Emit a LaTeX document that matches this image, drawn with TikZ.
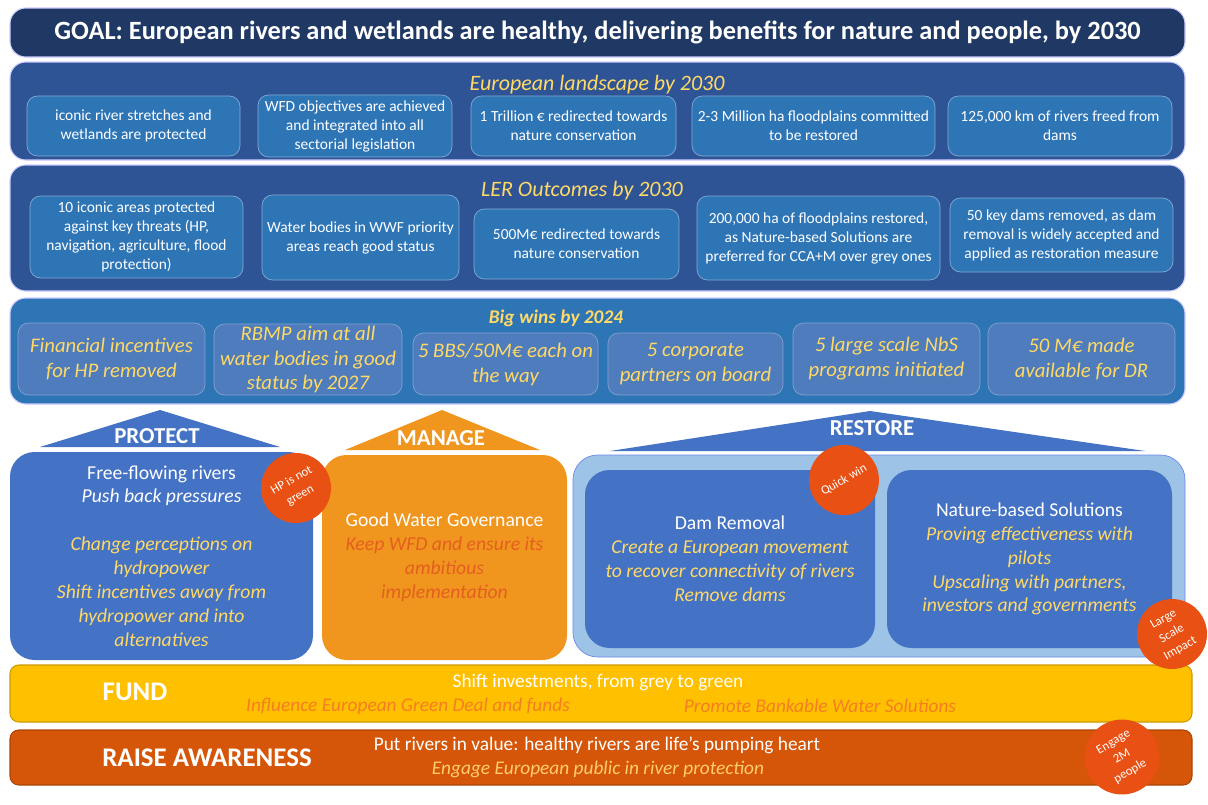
\documentclass[tikz,border=0pt]{standalone}
\usepackage{fontspec}
\setmainfont{Carlito}

\definecolor{goalc}{RGB}{31,56,100}
\definecolor{panelc}{RGB}{47,84,150}
\definecolor{boxc}{RGB}{46,117,182}
\definecolor{winc}{RGB}{46,117,182}
\definecolor{winbox}{RGB}{78,124,188}
\definecolor{lemon}{RGB}{255,217,102}
\definecolor{protc}{RGB}{68,114,196}
\definecolor{managec}{RGB}{240,150,30}
\definecolor{manaext}{RGB}{228,95,30}
\definecolor{restc}{RGB}{157,195,230}
\definecolor{badgec}{RGB}{232,80,20}
\definecolor{fundc}{RGB}{255,192,0}
\definecolor{fundtxt}{RGB}{245,125,35}
\definecolor{awarec}{RGB}{213,86,8}
\definecolor{awaretxt}{RGB}{255,205,110}

\begin{document}
\begin{tikzpicture}
  [x=0.02cm, y=-0.02cm,
   spot/.style n args = {4}{minimum width={(#3-#1)*0.02cm}, minimum height={(#4-#2)*0.02cm},
     at={({(#1+#3)/2},{(#2+#4)/2})}},
   panel/.style = {rounded corners=9pt, inner sep=0pt, draw=white!80!blue, line width=0.6pt},
   goal/.style = {panel, fill=goalc, text=white, font=\fontsize{15}{17}\selectfont\bfseries},
   title/.style = {text=lemon, font=\fontsize{12.5}{14}\selectfont\itshape},
   lbox/.style = {rounded corners=6pt, inner sep=0pt, align=center, fill=boxc,
     draw=boxc!60!white, line width=0.4pt, text=white,
     font=\fontsize{8.8}{10.8}\selectfont},
   wbox/.style = {lbox, fill=winbox, draw=winbox!70!white, text=lemon,
     font=\fontsize{11.8}{14.2}\selectfont\itshape},
   pillar/.style = {rounded corners=14pt, inner sep=0pt, align=center,
     font=\fontsize{11.2}{13.6}\selectfont, text=white},
   roof/.style = {text=white, font=\fontsize{13}{15}\selectfont\bfseries},
   badge/.style = {circle, fill=badgec, text=white, minimum size=1.4cm, inner sep=0pt,
     align=center, rotate=30, font=\fontsize{7.2}{9.6}\selectfont},
   band/.style = {rounded corners=5pt, inner sep=0pt, line width=0.6pt},
   bandlabel/.style = {text=white, font=\fontsize{15.3}{17}\selectfont\bfseries},
   bandtext/.style = {font=\fontsize{11}{13}\selectfont}
  ]
  \useasboundingbox (0,0) rectangle (1208,805);

  \node[goal, spot={10}{8}{1185}{57}] (goal) {GOAL: European rivers and wetlands are healthy, delivering benefits for nature and people, by 2030};

  % European landscape by 2030
  \node[panel, fill=panelc, spot={10}{62}{1185}{160}] (land) {};
  \node[title] (landt) at (597,85) {European landscape by 2030};
  \node[lbox, spot={27}{96}{240}{156}] (l1) {iconic river stretches and\\wetlands are protected};
  \node[lbox, spot={258}{95}{452}{157}] (l2) {WFD objectives are achieved\\and integrated into all\\sectorial legislation};
  \node[lbox, spot={471}{96}{676}{156}] (l3) {1 Trillion € redirected towards\\nature conservation};
  \node[lbox, spot={692}{96}{935}{156}] (l4) {2-3 Million ha floodplains committed\\to be restored};
  \node[lbox, spot={948}{96}{1172}{156}] (l5) {125,000 km of rivers freed from\\dams};

  % LER outcomes by 2030
  \node[panel, fill=panelc, spot={10}{165}{1185}{291}] (ler) {};
  \node[title] (lert) at (582,191) {LER Outcomes by 2030};
  \node[lbox, spot={30}{196}{243}{278}] (o1) {10 iconic  areas protected\\against key threats (HP,\\navigation, agriculture, flood\\protection)};
  \node[lbox, spot={262}{195}{459}{280}] (o2) {Water bodies in WWF priority\\areas reach good status};
  \node[lbox, spot={474}{209}{679}{279}] (o3) {500M€ redirected towards\\nature conservation};
  \node[lbox, spot={697}{196}{940}{280}] (o4) {200,000 ha of floodplains restored,\\as Nature-based Solutions are\\preferred for CCA+M over grey ones};
  \node[lbox, spot={950}{198}{1173}{272}] (o5) {50 key dams removed, as dam\\removal is widely accepted and\\applied as restoration measure};

  % Big wins by 2024
  \node[panel, fill=winc, spot={10}{298}{1185}{404}] (wins) {};
  \node[title, font=\fontsize{11}{13}\selectfont\bfseries\itshape] (winst) at (556,318) {Big wins by 2024};
  \node[wbox, spot={18}{323}{205}{395}] (w1) {Financial incentives\\for HP removed};
  \node[wbox, spot={214}{324}{402}{395}] (w2) {RBMP aim at all\\water bodies in good\\status by 2027};
  \node[wbox, spot={413}{333}{598}{395}] (w3) {5 BBS/50M€ each on\\the way};
  \node[wbox, spot={608}{333}{783}{395}] (w4) {5 corporate\\partners on board};
  \node[wbox, spot={793}{323}{980}{395}] (w5) {5 large scale NbS\\programs initiated};
  \node[wbox, spot={988}{323}{1175}{395}] (w6) {50 M€ made\\available for DR};

  % pillars
  \fill[protc] (40,447) -- (160,410) -- (280,447) -- cycle;
  \node[roof] (protr) at (157,436) {PROTECT};
  \node[pillar, fill=protc, spot={10}{452}{313}{660}] (prot) {Free-flowing rivers\\\textit{Push back pressures}\\[13.6pt]
    \color{lemon}\itshape Change perceptions on\\\color{lemon}\itshape hydropower\\\color{lemon}\itshape Shift incentives away from\\\color{lemon}\itshape hydropower and into\\\color{lemon}\itshape alternatives};

  \fill[managec] (345,450) -- (442,410) -- (540,450) -- cycle;
  \node[roof] (manr) at (441,438) {MANAGE};
  \node[pillar, fill=managec, spot={322}{455}{567}{660}] (man) {Good Water Governance\\
    \color{manaext}\itshape Keep WFD and ensure its\\\color{manaext}\itshape ambitious\\\color{manaext}\itshape implementation};

  \fill[protc] (610,451) -- (870,411) -- (1145,451) -- cycle;
  \node[roof] (restr) at (872,428) {RESTORE};
  \node[pillar, fill=restc, draw=restc!70!blue, spot={573}{455}{1185}{657}] (rest) {};
  \node[pillar, fill=protc, spot={585}{470}{875}{648}] (dam) {Dam Removal\\
    \color{lemon}\itshape Create a European movement\\\color{lemon}\itshape to recover connectivity of rivers\\\color{lemon}\itshape Remove dams};
  \node[pillar, fill=protc, spot={887}{470}{1172}{648}] (nbs) {Nature-based Solutions\\
    \color{lemon}\itshape Proving effectiveness with\\\color{lemon}\itshape pilots\\\color{lemon}\itshape Upscaling with partners,\\\color{lemon}\itshape investors and governments};

  % fund and raise awareness
  \node[band, fill=fundc, draw=fundc!80!black, spot={10}{665}{1192}{722}] (fund) {};
  \node[bandlabel] (fundl) at (135,692) {FUND};
  \node[bandtext, text=white] (fund1) at (598,682) {Shift investments, from grey to green};
  \node[bandtext, text=fundtxt, font=\fontsize{11}{13}\selectfont\itshape] (fund2) at (408,706) {Influence European Green Deal and funds};
  \node[bandtext, text=fundtxt, font=\fontsize{11}{13}\selectfont\itshape] (fund3) at (820,706) {Promote Bankable Water Solutions};

  \node[band, fill=awarec, draw=awarec!80!black, spot={10}{730}{1192}{785}] (aware) {};
  \node[bandlabel] (awarel) at (207,758) {RAISE AWARENESS};
  \node[bandtext, text=white] (aware1) at (597,745) {Put rivers in value: healthy rivers are life’s pumping heart};
  \node[bandtext, text=awaretxt, font=\fontsize{11}{13}\selectfont\itshape] (aware2) at (598,769) {Engage European public in river protection};

  % badges
  \node[badge] (hp) at (296,488) {HP is not\\green};
  \node[badge] (quick) at (844,480) {Quick win};
  \node[badge] (large) at (1172,634) {Large\\Scale\\Impact};
  \node[badge, minimum size=1.5cm] (engage) at (1122,757) {Engage\\2M\\people};
\end{tikzpicture}
\end{document}
